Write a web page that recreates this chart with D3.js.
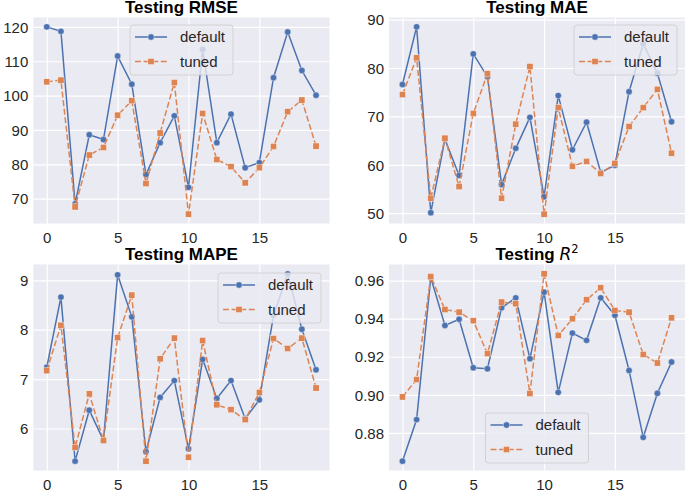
<!DOCTYPE html>
<html>
<head>
<meta charset="utf-8">
<script src="https://cdn.jsdelivr.net/npm/d3@7"></script>
<style>
  html, body { margin: 0; padding: 0; background: #ffffff; }
  svg { display: block; }
</style>
</head>
<body>
<svg id="chart" width="685" height="491"></svg>
<script>
// ---------------- data ----------------
const runIndex = d3.range(20);
const seriesNames = ["default", "tuned"];
const xTicks = [0, 5, 10, 15];

const rmseDefault = [120.0, 118.7, 68.5, 88.6, 87.2, 111.5, 103.3, 77.0, 86.3, 94.1, 73.3, 113.4, 86.3, 94.6, 79.0, 80.5, 105.2, 118.5, 107.3, 100.1];
const rmseTuned   = [104.0, 104.5, 67.6, 82.7, 84.9, 94.3, 98.5, 74.4, 89.1, 103.8, 65.5, 94.8, 81.4, 79.3, 74.6, 79.0, 85.2, 95.3, 98.7, 85.3];
const rmseTicks = [70, 80, 90, 100, 110, 120];

const maeDefault = [76.6, 88.5, 50.1, 65.3, 57.8, 82.9, 78.2, 55.9, 63.4, 69.8, 53.4, 74.3, 63.1, 68.8, 58.4, 59.9, 75.1, 85.0, 78.9, 68.9];
const maeTuned   = [74.5, 82.1, 53.1, 65.5, 55.5, 70.6, 78.8, 53.1, 68.4, 80.3, 49.8, 71.8, 59.7, 60.7, 58.2, 60.3, 67.9, 71.8, 75.6, 62.4];
const maeTicks = [50, 60, 70, 80, 90];

const mapeDefault = [7.24, 8.66, 5.34, 6.37, 5.76, 9.11, 8.26, 5.53, 6.63, 6.97, 5.59, 7.40, 6.61, 6.97, 6.20, 6.58, 8.29, 9.13, 8.01, 7.19];
const mapeTuned   = [7.17, 8.09, 5.62, 6.70, 5.76, 7.84, 8.70, 5.34, 7.41, 7.83, 5.42, 7.78, 6.48, 6.38, 6.18, 6.73, 7.82, 7.62, 7.83, 6.82];
const mapeTicks = [6, 7, 8, 9];

const r2Default = [0.8652, 0.8870, 0.9616, 0.9364, 0.9397, 0.9142, 0.9137, 0.9457, 0.9509, 0.9190, 0.9539, 0.9013, 0.9324, 0.9286, 0.9509, 0.9418, 0.9128, 0.8777, 0.9008, 0.9172];
const r2Tuned   = [0.8989, 0.9080, 0.9621, 0.9448, 0.9434, 0.9389, 0.9216, 0.9487, 0.9478, 0.9007, 0.9635, 0.9312, 0.9399, 0.9499, 0.9562, 0.9443, 0.9434, 0.9212, 0.9167, 0.9404];
const r2Ticks = [0.88, 0.90, 0.92, 0.94, 0.96];

// ---------------- layout / style ----------------
const colors = { default: "#4C72B0", tuned: "#DD8452" };
const bg = "#EAEAF2";
const textColor = "#262626";
const fontFamily = "'Liberation Sans', Arial, sans-serif";

const panels = [
  { title: "Testing RMSE", def: rmseDefault, tun: rmseTuned, ticks: rmseTicks, fmt: d3.format("d"),
    rect: { x0: 33.3, x1: 329.5, y0: 17.5, y1: 223.5 }, legend: { x: 130, y: 25 } },
  { title: "Testing MAE", def: maeDefault, tun: maeTuned, ticks: maeTicks, fmt: d3.format("d"),
    rect: { x0: 389, x1: 685, y0: 17.5, y1: 223.5 }, legend: { x: 574, y: 25 } },
  { title: "Testing MAPE", def: mapeDefault, tun: mapeTuned, ticks: mapeTicks, fmt: d3.format("d"),
    rect: { x0: 33.3, x1: 329.5, y0: 264.5, y1: 470.5 }, legend: { x: 218, y: 273 } },
  { title: "R2", def: r2Default, tun: r2Tuned, ticks: r2Ticks, fmt: d3.format(".2f"),
    rect: { x0: 389, x1: 685, y0: 264.5, y1: 470.5 }, legend: { x: 485.5, y: 413 } }
];

const svg = d3.select("#chart");

panels.forEach(p => {
  const r = p.rect;
  const g = svg.append("g");

  // x scale with matplotlib-like 5% margins
  const xExt = d3.extent(runIndex);
  const xPad = (xExt[1] - xExt[0]) * 0.05;
  const x = d3.scaleLinear().domain([xExt[0] - xPad, xExt[1] + xPad]).range([r.x0, r.x1]);

  const all = p.def.concat(p.tun);
  const yExt = d3.extent(all);
  const yPad = (yExt[1] - yExt[0]) * 0.05;
  const y = d3.scaleLinear().domain([yExt[0] - yPad, yExt[1] + yPad]).range([r.y1, r.y0]);

  // background
  g.append("rect").attr("x", r.x0).attr("y", r.y0)
    .attr("width", r.x1 - r.x0).attr("height", r.y1 - r.y0).attr("fill", bg);

  // grid via axes
  const xAxis = d3.axisBottom(x).tickValues(xTicks).tickSize(-(r.y1 - r.y0)).tickPadding(8).tickFormat(d3.format("d"));
  const xg = g.append("g").attr("transform", `translate(0,${r.y1})`).call(xAxis);
  const yAxis = d3.axisLeft(y).tickValues(p.ticks).tickSize(-(r.x1 - r.x0)).tickPadding(5).tickFormat(p.fmt);
  const yg = g.append("g").attr("transform", `translate(${r.x0},0)`).call(yAxis);

  [xg, yg].forEach(ag => {
    ag.select(".domain").remove();
    ag.selectAll(".tick line").attr("stroke", "#ffffff").attr("stroke-width", 1.2);
    ag.selectAll(".tick text").attr("fill", textColor).style("font-family", fontFamily).style("font-size", "15px");
  });
  xg.selectAll(".tick text").attr("dy", "0.71em").attr("y", 9);
  yg.selectAll(".tick text").attr("dy", "0.35em");

  // clip
  const clipId = "clip" + Math.round(r.x0) + "_" + Math.round(r.y0);
  svg.append("clipPath").attr("id", clipId).append("rect")
    .attr("x", r.x0).attr("y", r.y0).attr("width", r.x1 - r.x0).attr("height", r.y1 - r.y0);
  const plot = g.append("g").attr("clip-path", `url(#${clipId})`);

  const line = d3.line().x((d, i) => x(runIndex[i])).y(d => y(d));

  // default series
  plot.append("path").datum(p.def).attr("d", line)
    .attr("fill", "none").attr("stroke", colors.default).attr("stroke-width", 1.5);
  plot.selectAll(".pd").data(p.def).join("circle")
    .attr("cx", (d, i) => x(runIndex[i])).attr("cy", d => y(d)).attr("r", 3.2)
    .attr("fill", colors.default).attr("stroke", "#ffffff").attr("stroke-width", 0.4);

  // tuned series
  plot.append("path").datum(p.tun).attr("d", line)
    .attr("fill", "none").attr("stroke", colors.tuned).attr("stroke-width", 1.5)
    .attr("stroke-dasharray", "6,2.6");
  const sq = 6.2;
  plot.selectAll(".pt").data(p.tun).join("rect")
    .attr("x", (d, i) => x(runIndex[i]) - sq / 2).attr("y", d => y(d) - sq / 2)
    .attr("width", sq).attr("height", sq)
    .attr("fill", colors.tuned).attr("stroke", "#ffffff").attr("stroke-width", 0.4);

  // title
  const cx = (r.x0 + r.x1) / 2;
  const t = g.append("text").attr("x", cx).attr("y", r.y0 - 5)
    .attr("text-anchor", "middle").attr("fill", "#000000")
    .style("font-family", fontFamily).style("font-size", "17px").style("font-weight", "bold");
  if (p.title === "R2") {
    t.append("tspan").text("Testing ");
    t.append("tspan").text("R").style("font-family", "'DejaVu Sans', sans-serif")
      .style("font-style", "italic").style("font-weight", "normal");
    t.append("tspan").text("2").style("font-family", "'DejaVu Sans', sans-serif")
      .style("font-weight", "normal").style("font-size", "11.5px").attr("dy", "-7");
  } else {
    t.text(p.title);
  }

  // legend
  const L = p.legend;
  const lg = g.append("g").attr("transform", `translate(${L.x},${L.y})`);
  lg.append("rect").attr("x", 0).attr("y", 0).attr("width", 103).attr("height", 50)
    .attr("rx", 3).attr("ry", 3)
    .attr("fill", bg).attr("fill-opacity", 0.8)
    .attr("stroke", "#cccccc").attr("stroke-width", 0.8);
  seriesNames.forEach((name, k) => {
    const yy = 12 + k * 24.5;
    const ln = lg.append("line").attr("x1", 5).attr("x2", 37).attr("y1", yy).attr("y2", yy)
      .attr("stroke", colors[name]).attr("stroke-width", 1.5);
    if (name === "tuned") {
      ln.attr("stroke-dasharray", "6,2.6");
      lg.append("rect").attr("x", 21 - sq / 2).attr("y", yy - sq / 2).attr("width", sq).attr("height", sq)
        .attr("fill", colors[name]).attr("stroke", "#ffffff").attr("stroke-width", 0.4);
    } else {
      lg.append("circle").attr("cx", 21).attr("cy", yy).attr("r", 3.2)
        .attr("fill", colors[name]).attr("stroke", "#ffffff").attr("stroke-width", 0.4);
    }
    lg.append("text").attr("x", 50).attr("y", yy).attr("dy", "0.35em")
      .attr("fill", textColor).style("font-family", fontFamily).style("font-size", "15px")
      .text(name);
  });
});
</script>
</body>
</html>
